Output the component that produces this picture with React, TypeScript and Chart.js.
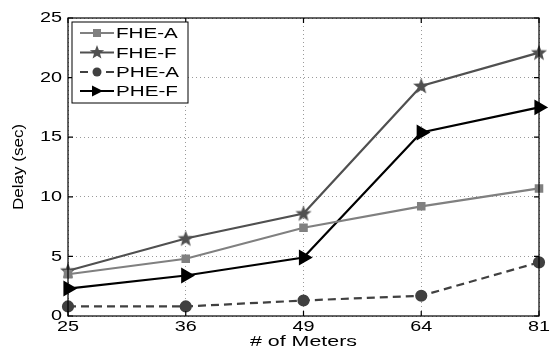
import React, { useEffect, useRef } from "react";
import { Chart, registerables } from "chart.js";

Chart.register(...registerables);

const categories = ["25", "36", "49", "64", "81"];
const fheA = [3.5, 4.8, 7.4, 9.2, 10.7];
const fheF = [3.8, 6.5, 8.6, 19.3, 22.1];
const pheA = [0.8, 0.8, 1.3, 1.7, 4.5];
const pheF = [2.3, 3.4, 4.9, 15.4, 17.5];
const yTicks = [0, 5, 10, 15, 20, 25];
const xTitle = "# of Meters";
const yTitle = "Delay (sec)";

function makeStar(color: string, size: number): HTMLCanvasElement {
  const c = document.createElement("canvas");
  c.width = size;
  c.height = size;
  const ctx = c.getContext("2d")!;
  const cx = size / 2, cy = size / 2 + 0.5;
  const R = size / 2 - 0.5, r = R * 0.42;
  ctx.beginPath();
  for (let i = 0; i < 10; i++) {
    const ang = -Math.PI / 2 + (i * Math.PI) / 5;
    const rad = i % 2 === 0 ? R : r;
    const x = cx + rad * Math.cos(ang);
    const y = cy + rad * Math.sin(ang);
    if (i === 0) ctx.moveTo(x, y); else ctx.lineTo(x, y);
  }
  ctx.closePath();
  ctx.fillStyle = color;
  ctx.fill();
  return c;
}

const FONT = "'Liberation Sans', Arial, Helvetica, sans-serif";

function drawText(
  ctx: CanvasRenderingContext2D,
  text: string,
  x: number,
  y: number,
  align: CanvasTextAlign,
  sx: number,
  size: number,
  rot = 0
) {
  ctx.save();
  ctx.translate(x, y);
  if (rot) ctx.rotate(rot);
  ctx.scale(sx, 1);
  ctx.font = `${size}px ${FONT}`;
  ctx.fillStyle = "#000";
  ctx.textAlign = align;
  ctx.textBaseline = "middle";
  ctx.fillText(text, 0, 0);
  ctx.restore();
}

export default function App() {
  const ref = useRef<HTMLCanvasElement | null>(null);

  useEffect(() => {
    document.body.style.margin = "0";
    const star = makeStar("#505050", 18);
    const starSmall = makeStar("#505050", 16);

    const frame = {
      id: "frame",
      afterDraw(chart: any) {
        const { ctx, chartArea: a, scales } = chart;
        ctx.save();
        ctx.strokeStyle = "#000";
        ctx.lineWidth = 1.2;
        ctx.strokeRect(a.left, a.top, a.right - a.left, a.bottom - a.top);
        ctx.beginPath();
        for (const v of yTicks) {
          const y = scales.y.getPixelForValue(v);
          ctx.moveTo(a.left, y); ctx.lineTo(a.left + 5, y);
          ctx.moveTo(a.right, y); ctx.lineTo(a.right - 5, y);
        }
        for (let i = 0; i < categories.length; i++) {
          const x = scales.x.getPixelForValue(i);
          ctx.moveTo(x, a.bottom); ctx.lineTo(x, a.bottom - 5);
          ctx.moveTo(x, a.top); ctx.lineTo(x, a.top + 5);
        }
        ctx.stroke();

        // tick labels and titles
        for (const v of yTicks) {
          const y = scales.y.getPixelForValue(v);
          drawText(ctx, String(v), a.left - 6, y, "right", 1.28, 15.5);
        }
        categories.forEach((c, i) => {
          const x = scales.x.getPixelForValue(i);
          drawText(ctx, c, x, a.bottom + 11, "center", 1.28, 15.5);
        });
        drawText(ctx, xTitle, (a.left + a.right) / 2, a.bottom + 25.5, "center", 1.38, 15.5);
        drawText(ctx, yTitle, 19, (a.top + a.bottom) / 2, "center", 1.1, 15.5, -Math.PI / 2);

        // legend
        const lx = a.left + 4, ly = a.top + 4, lw = 116, lh = 81;
        ctx.fillStyle = "#fff";
        ctx.fillRect(lx, ly, lw, lh);
        ctx.lineWidth = 1;
        ctx.strokeStyle = "#000";
        ctx.strokeRect(lx, ly, lw, lh);
        const rows = [11, 30.5, 50, 69];
        chart.data.datasets.forEach((ds: any, i: number) => {
          const y = ly + rows[i];
          ctx.save();
          ctx.strokeStyle = ds.borderColor;
          ctx.lineWidth = ds.borderWidth;
          ctx.setLineDash(ds.borderDash || []);
          ctx.beginPath();
          ctx.moveTo(lx + 8, y);
          ctx.lineTo(lx + 42, y);
          ctx.stroke();
          ctx.setLineDash([]);
          const mx = lx + 25;
          ctx.fillStyle = ds.pointBackgroundColor;
          if (ds.label === "FHE-A") {
            ctx.fillRect(mx - 4, y - 4, 8, 8);
          } else if (ds.label === "FHE-F") {
            ctx.drawImage(starSmall, mx - 8, y - 8.5);
          } else if (ds.label === "PHE-A") {
            ctx.beginPath(); ctx.arc(mx, y, 4.5, 0, Math.PI * 2); ctx.fill();
          } else {
            ctx.beginPath();
            ctx.moveTo(mx - 5, y - 5.5); ctx.lineTo(mx + 6, y); ctx.lineTo(mx - 5, y + 5.5);
            ctx.closePath(); ctx.fill();
          }
          ctx.restore();
          drawText(ctx, ds.label, lx + 44, y + 1, "left", 1.33, 15.5);
        });
        ctx.restore();
      },
    };

    const chart = new Chart(ref.current!, {
      type: "line",
      data: {
        labels: categories,
        datasets: [
          {
            label: "FHE-A",
            data: fheA,
            borderColor: "#808080",
            backgroundColor: "#808080",
            pointBackgroundColor: "#808080",
            pointBorderColor: "#808080",
            borderWidth: 2.2,
            pointStyle: "rect",
            pointRadius: 4.5,
          },
          {
            label: "FHE-F",
            data: fheF,
            borderColor: "#505050",
            backgroundColor: "#505050",
            pointBackgroundColor: "#505050",
            pointBorderColor: "#505050",
            borderWidth: 2.2,
            pointStyle: star as any,
            pointRadius: 9,
          },
          {
            label: "PHE-A",
            data: pheA,
            borderColor: "#404040",
            backgroundColor: "#404040",
            pointBackgroundColor: "#404040",
            pointBorderColor: "#404040",
            borderWidth: 2.2,
            borderDash: [8, 5],
            pointStyle: "circle",
            pointRadius: 5,
          },
          {
            label: "PHE-F",
            data: pheF,
            borderColor: "#000",
            backgroundColor: "#000",
            pointBackgroundColor: "#000",
            pointBorderColor: "#000",
            borderWidth: 2.2,
            pointStyle: "triangle",
            rotation: 90,
            pointRadius: 7,
          },
        ],
      },
      options: {
        animation: false,
        responsive: false,
        devicePixelRatio: 1,
        layout: { padding: { top: 18, right: 12, left: 0, bottom: 0 } },
        plugins: { legend: { display: false }, tooltip: { enabled: false } },
        elements: { line: { tension: 0 } },
        scales: {
          x: {
            type: "category",
            offset: false,
            grid: { color: "#9a9a9a", lineWidth: 1, drawTicks: false },
            border: { display: false, dash: [1, 3] },
            ticks: { display: false, autoSkip: false },
            title: { display: false },
            afterFit(scale: any) {
              scale.height = 35;
            },
          },
          y: {
            min: 0,
            max: 25,
            grid: { color: "#9a9a9a", lineWidth: 1, drawTicks: false },
            border: { display: false, dash: [1, 3] },
            ticks: { display: false, stepSize: 5 },
            title: { display: false },
            afterFit(scale: any) {
              scale.width = 68;
            },
          },
        },
      },
      plugins: [frame],
    } as any);
    return () => chart.destroy();
  }, []);

  return (
    <div style={{ width: 551, height: 351, background: "#fff" }}>
      <canvas ref={ref} width={551} height={351} style={{ display: "block", width: 551, height: 351 }} />
    </div>
  );
}
